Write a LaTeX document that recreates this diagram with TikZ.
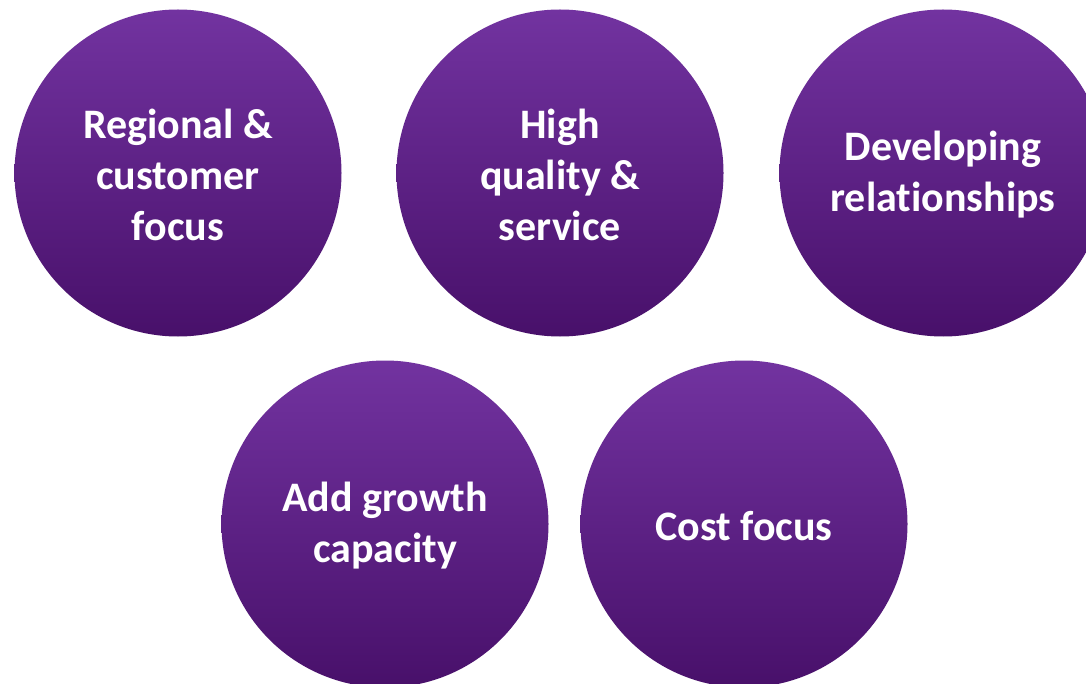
\documentclass[tikz,border=0pt]{standalone}
\usepackage{fontspec}
\setmainfont{Carlito}[Ligatures=NoCommon]
\definecolor{bubbletop}{HTML}{7233A0}
\definecolor{bubblebottom}{HTML}{48106A}
% a tall invisible strut on the first line lowers each label slightly
\newcommand{\firstline}{\rule{0pt}{33pt}}
\begin{document}
\begin{tikzpicture}[x=1pt,y=-1pt,
  bubble/.style={circle, minimum size=327pt, inner sep=0pt,
    top color=bubbletop, bottom color=bubblebottom,
    text=white, align=center,
    font=\bfseries\fontsize{42}{51}\selectfont}]
\clip (0,0) rectangle (1086,684);
\fill[white] (0,0) rectangle (1086,684);
% top row
\node[bubble] (regional) at (178,173) {\firstline Regional \&\\customer\\focus};
\node[bubble] (quality)  at (560,173) {\firstline High\\quality \&\\service};
\node[bubble] (relation) at (943,173) {\firstline Developing\\relationships};
% bottom row
\node[bubble] (growth) at (385,524) {\firstline Add growth\\capacity};
\node[bubble] (cost)   at (744,524) {\firstline Cost focus};
\end{tikzpicture}
\end{document}
